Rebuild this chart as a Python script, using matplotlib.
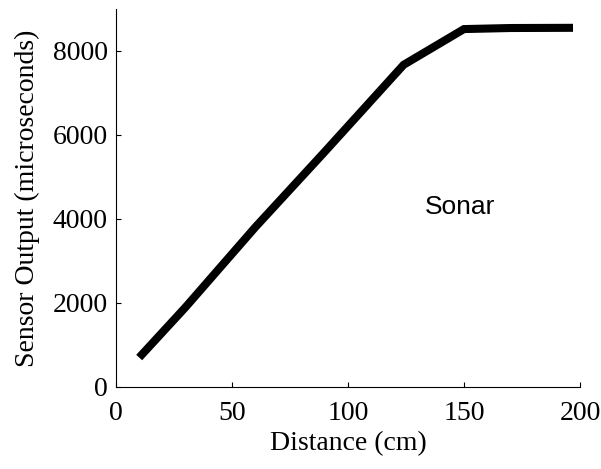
import matplotlib
matplotlib.use("Agg")
import matplotlib.pyplot as plt

# Sonar calibration curve
distance_cm = [10, 30, 60, 90, 124, 150, 170, 197]
output_us = [700, 1900, 3800, 5600, 7670, 8520, 8545, 8550]

x_ticks = [0, 50, 100, 150, 200]
y_ticks = [0, 2000, 4000, 6000, 8000]


def main():
    plt.rcParams["font.family"] = ["Liberation Serif", "DejaVu Serif"]

    fig = plt.figure(figsize=(6.01, 4.69), dpi=100)
    ax = fig.add_axes([0.193, 0.175, 0.772, 0.806])

    ax.plot(distance_cm, output_us, color="black", linewidth=5.8,
            solid_capstyle="butt", solid_joinstyle="miter")

    ax.set_xlim(0, 200)
    ax.set_ylim(0, 9000)
    ax.set_xticks(x_ticks)
    ax.set_yticks(y_ticks)

    for side in ("top", "right"):
        ax.spines[side].set_visible(False)
    for side in ("left", "bottom"):
        ax.spines[side].set_linewidth(0.8)

    ax.tick_params(direction="in", length=3.5, width=0.8, labelsize=20)
    ax.tick_params(axis="x", pad=10)
    ax.tick_params(axis="y", pad=6)

    ax.set_xlabel("Distance (cm)", fontsize=20, labelpad=4)
    ax.set_ylabel("Sensor Output (microseconds)", fontsize=20, labelpad=9)

    ax.text(133, 4290, "Sonar", fontsize=19, family="Liberation Sans",
            va="center", ha="left")

    fig.savefig("out.png", dpi=100)


if __name__ == "__main__":
    main()
